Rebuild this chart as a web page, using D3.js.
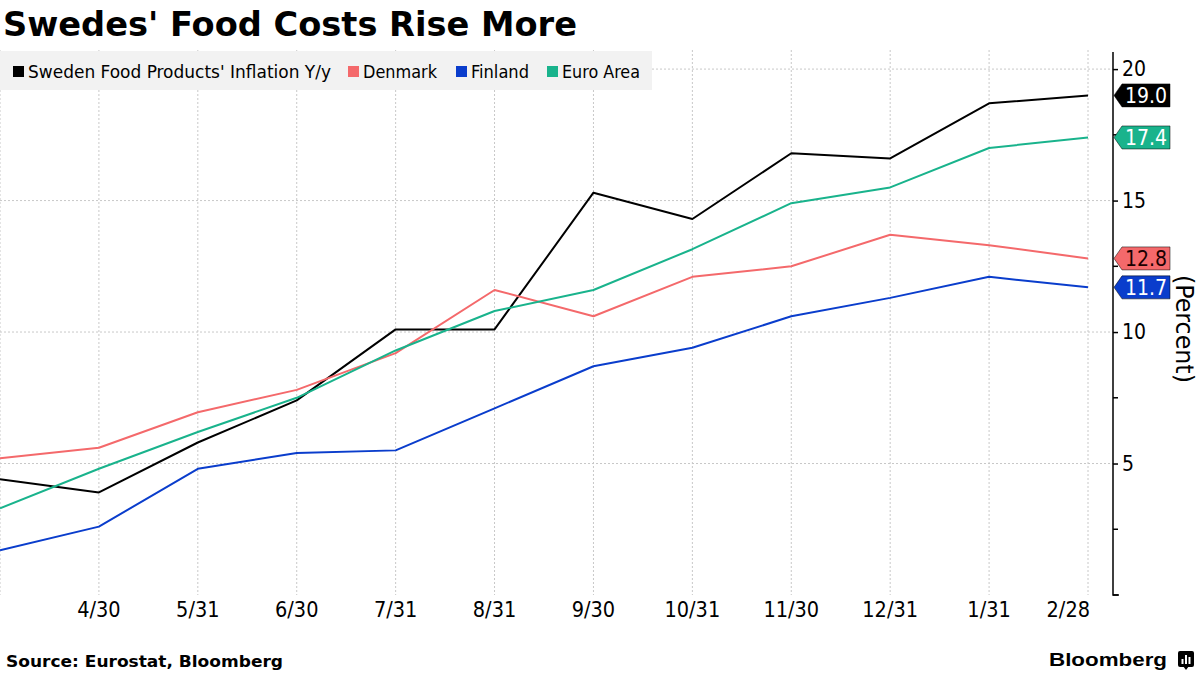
<!DOCTYPE html>
<html><head><meta charset="utf-8">
<script src="https://cdn.jsdelivr.net/npm/d3@7"></script>
<style>
html,body{margin:0;padding:0;background:#fff;}
svg{display:block;font-family:"DejaVu Sans Condensed","Liberation Sans Narrow","Liberation Sans",sans-serif;}
</style></head>
<body>
<svg id="chart" width="1200" height="675"></svg>
<script>
const months = ["3/31","4/30","5/31","6/30","7/31","8/31","9/30","10/31","11/30","12/31","1/31","2/28"];
const tickLabels = ["4/30","5/31","6/30","7/31","8/31","9/30","10/31","11/30","12/31","1/31","2/28"];
const sweden  = [4.4, 3.9, 5.8, 7.4, 10.1, 10.1, 15.3, 14.3, 16.8, 16.6, 18.7, 19.0];
const denmark = [5.2, 5.6, 6.95, 7.8, 9.2, 11.6, 10.6, 12.1, 12.5, 13.7, 13.3, 12.8];
const finland = [1.7, 2.6, 4.8, 5.4, 5.5, 7.1, 8.7, 9.4, 10.6, 11.3, 12.1, 11.7];
const euroArea = [3.3, 4.8, 6.2, 7.5, 9.3, 10.8, 11.6, 13.15, 14.9, 15.5, 17.0, 17.4];
const seriesNames = ["Sweden Food Products' Inflation Y/y","Denmark","Finland","Euro Area"];
const seriesColors = ["#000000","#f4696b","#0a3dcc","#19b38c"];
const yTicks = [5,10,15,20];
const yMinorTicks = [0,2.5,7.5,12.5,17.5];

const series = [sweden, denmark, finland, euroArea].map((v,i)=>({name:seriesNames[i], color:seriesColors[i], values:v}));

const svg = d3.select("#chart");
const axisX = 1113, plotTop = 52, plotBottom = 595;
const x = d3.scalePoint().domain(months).range([0, 1088]);
const y = d3.scaleLinear().domain([0, 20.65]).range([plotBottom, plotTop]);

// Title
svg.append("text").attr("x",3).attr("y",36).attr("font-family","'DejaVu Sans','Liberation Sans',sans-serif")
  .attr("font-weight","bold").attr("font-size",34).attr("textLength",574).attr("lengthAdjust","spacingAndGlyphs")
  .text("Swedes' Food Costs Rise More");

// gridlines
const g = svg.append("g");
g.selectAll("line.vg").data(months).join("line")
  .attr("x1",d=>x(d)).attr("x2",d=>x(d)).attr("y1",50).attr("y2",plotBottom)
  .attr("stroke","#c8c8c8").attr("stroke-width",1).attr("stroke-dasharray","2,2");
g.selectAll("line.hg").data(yTicks).join("line")
  .attr("x1",0).attr("x2",axisX).attr("y1",d=>y(d)).attr("y2",d=>y(d))
  .attr("stroke","#c8c8c8").attr("stroke-width",1).attr("stroke-dasharray","2,2");

// legend box
svg.append("rect").attr("x",0).attr("y",51).attr("width",652).attr("height",39).attr("fill","#f2f2f2");
const legendX = [13, 348, 456, 547];
const legendW = [303, 74, 58, 78];
series.forEach((s,i)=>{
  svg.append("rect").attr("x",legendX[i]).attr("y",66).attr("width",11).attr("height",11).attr("fill",s.color);
  svg.append("text").attr("x",legendX[i]+15).attr("y",78).attr("font-size",18.5).attr("fill","#000")
    .attr("textLength",legendW[i]).attr("lengthAdjust","spacingAndGlyphs").text(s.name);
});

// lines
const line = d3.line().x((d,i)=>x(months[i])).y(d=>y(d));
svg.selectAll("path.series").data(series).join("path")
  .attr("fill","none").attr("stroke",d=>d.color).attr("stroke-width",2).attr("stroke-linejoin","round")
  .attr("d",d=>line(d.values));

// right axis
const yAxis = d3.axisRight(y).tickValues(yTicks).tickSize(5).tickFormat(d3.format("d"));
const ax = svg.append("g").attr("transform",`translate(${axisX},0)`).call(yAxis);
ax.select(".domain").attr("d",`M0,${plotTop}V${plotBottom}H6`).attr("stroke","#000").attr("stroke-width",1.5);
ax.selectAll(".tick line").attr("stroke","#000").attr("stroke-width",1.5);
ax.selectAll(".tick text").attr("x",9).attr("font-size",21).attr("fill","#000")
  .attr("font-family","'DejaVu Sans Condensed','Liberation Sans Narrow',sans-serif");
ax.selectAll("line.minor").data(yMinorTicks).join("line").attr("class","minor")
  .attr("x1",0).attr("x2",5).attr("y1",d=>y(d)).attr("y2",d=>y(d)).attr("stroke","#000").attr("stroke-width",1.5);

// x axis labels
svg.selectAll("text.xl").data(tickLabels).join("text")
  .attr("x",(d,i)=> i===tickLabels.length-1 ? x(d)+2 : x(d))
  .attr("y",617)
  .attr("text-anchor",(d,i)=> i===tickLabels.length-1 ? "end" : "middle")
  .attr("font-size",21.5).attr("fill","#000").text(d=>d);

// value tags
series.forEach(s=>{
  const v = s.values[s.values.length-1];
  const cy = y(v);
  const x0 = axisX+1, w = 56, h = 23, tip = 8;
  svg.append("path").attr("d",`M${x0},${cy}L${x0+tip},${cy-h/2}H${x0+w}V${cy+h/2}H${x0+tip}Z`)
    .attr("fill",s.color).attr("stroke","#000").attr("stroke-width",0.5);
  svg.append("text").attr("x",x0+tip+24).attr("y",cy+7.5).attr("text-anchor","middle").attr("font-size",21)
    .attr("fill", s.name==="Denmark" ? "#1a0000" : "#fff").text(d3.format(".1f")(v));
});

// axis title
svg.append("text").attr("transform","translate(1176,329) rotate(90)").attr("text-anchor","middle")
  .attr("font-size",25).attr("fill","#000").attr("textLength",108).attr("lengthAdjust","spacingAndGlyphs").text("(Percent)");

// source
svg.append("text").attr("x",6).attr("y",667).attr("font-weight","bold").attr("font-size",16)
  .attr("font-family","'DejaVu Sans','Liberation Sans',sans-serif")
  .attr("textLength",277).attr("lengthAdjust","spacingAndGlyphs").text("Source:  Eurostat, Bloomberg");

// Bloomberg logo
svg.append("text").attr("x",1049).attr("y",666).attr("font-weight","bold").attr("font-size",19)
  .attr("font-family","'Liberation Sans','Roboto',sans-serif")
  .attr("textLength",118).attr("lengthAdjust","spacingAndGlyphs").text("Bloomberg");
svg.append("rect").attr("x",1178).attr("y",651).attr("width",16).attr("height",16).attr("rx",2).attr("fill","#000");
svg.append("path").attr("d","M1183,666L1186,670L1189,666Z").attr("fill","#000");
[[1181.5,659,2,5],[1185,655,2,9],[1188.5,657,2,7]].forEach(b=>{
  svg.append("rect").attr("x",b[0]).attr("y",b[1]).attr("width",b[2]).attr("height",b[3]).attr("fill","#fff");
});
</script>
</body></html>
